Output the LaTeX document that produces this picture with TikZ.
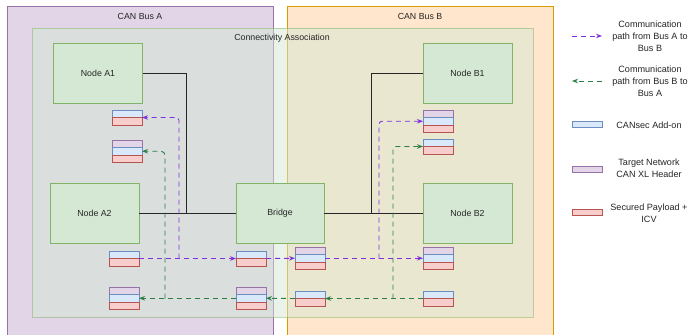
\documentclass[tikz,border=0pt]{standalone}
\usepackage{fontspec}
\setmainfont{Liberation Sans}
\usetikzlibrary{arrows.meta}
\definecolor{busAfill}{HTML}{E1D5E7}
\definecolor{busAline}{HTML}{9673A6}
\definecolor{busBfill}{HTML}{FFE6CC}
\definecolor{busBline}{HTML}{D79B00}
\definecolor{gfill}{HTML}{D5E8D4}
\definecolor{gline}{HTML}{82B366}
\definecolor{bfill}{HTML}{DAE8FC}
\definecolor{bline}{HTML}{6C8EBF}
\definecolor{rfill}{HTML}{F8CECC}
\definecolor{rline}{HTML}{B85450}
\definecolor{purp}{HTML}{7F2FE0}
\definecolor{grn}{HTML}{2D7D46}
\definecolor{txt}{HTML}{262626}
\begin{document}
\begin{tikzpicture}[x=1pt,y=-1pt,
  every node/.style={font=\fontsize{8.8}{11.5}\selectfont, text=txt},
  nodebox/.style={draw=gline, fill=gfill, line width=0.8pt, minimum width=89pt, minimum height=60pt, inner sep=0pt},
  row/.style={minimum width=30pt, minimum height=7.5pt, inner sep=0pt, outer sep=0pt, anchor=north west, line width=0.7pt},
  rb/.style={row, draw=bline, fill=bfill},
  rr/.style={row, draw=rline, fill=rfill},
  rp/.style={row, draw=busAline, fill=busAfill},
  legrow/.style={minimum height=6pt, anchor=center},
  busline/.style={draw=black!85, line width=0.7pt},
  pathA/.style={draw=purp, line width=0.9pt, dash pattern=on 5pt off 4pt, -{Stealth[length=6pt,width=4.5pt]}},
  pathB/.style={draw=grn, line width=0.9pt, dash pattern=on 5pt off 4pt, -{Stealth[length=6pt,width=4.5pt]}},
  legtext/.style={align=center, font=\fontsize{9.1}{11.8}\selectfont}
]
\useasboundingbox (0,0) rectangle (689,335);
% containers
\fill[white] (0,0) rectangle (689,335);
\draw[draw=busAline, fill=busAfill, line width=0.8pt] (7,6) rectangle (273,345);
\draw[draw=busBline, fill=busBfill, line width=0.8pt] (287,6) rectangle (553,345);
\draw[draw=gline, fill=gfill, fill opacity=0.5, draw opacity=0.5, line width=0.8pt] (32,28) rectangle (533,317);
\node (labA) at (140,16) {CAN Bus A};
\node (labB) at (420,16) {CAN Bus B};
\node (labC) at (282,38) {Connectivity Association};
% nodes
\node[nodebox] (A1) at (98,73) {Node A1};
\node[nodebox] (A2) at (94.5,213) {Node A2};
\node[nodebox, minimum width=88pt] (Br) at (280,213) {Bridge};
\node[nodebox] (B1) at (467.5,73) {Node B1};
\node[nodebox] (B2) at (467.5,213) {Node B2};
% bus lines
\coordinate (jA1) at (186,213);
\coordinate (jB1) at (371,213);
\draw[busline] (A1.east) -| (jA1);
\draw[busline] (A2.east) -- (Br.west);
\draw[busline] (Br.east) -- (B2.west);
\draw[busline] (B1.west) -| (jB1);
% packets
\node[rb] (PA1b) at (112,110) {};
\node[rr] (PA1r) at (PA1b.south west) {};
\node[rp] (PA1gp) at (112,140) {};
\node[rb] (PA1gb) at (PA1gp.south west) {};
\node[rr] (PA1gr) at (PA1gb.south west) {};
\node[rb] (PA2b) at (109,251) {};
\node[rr] (PA2r) at (PA2b.south west) {};
\node[rp] (PA2gp) at (109,287) {};
\node[rb] (PA2gb) at (PA2gp.south west) {};
\node[rr] (PA2gr) at (PA2gb.south west) {};
\node[rb] (PLb) at (236,251) {};
\node[rr] (PLr) at (PLb.south west) {};
\node[rp] (PLgp) at (236,287) {};
\node[rb] (PLgb) at (PLgp.south west) {};
\node[rr] (PLgr) at (PLgb.south west) {};
\node[rp] (PRp) at (295,247) {};
\node[rb] (PRb) at (PRp.south west) {};
\node[rr] (PRr) at (PRb.south west) {};
\node[rb] (PRgb) at (295,291) {};
\node[rr] (PRgr) at (PRgb.south west) {};
\node[rp] (PB1p) at (423,110) {};
\node[rb] (PB1b) at (PB1p.south west) {};
\node[rr] (PB1r) at (PB1b.south west) {};
\node[rb] (PB1gb) at (423,139) {};
\node[rr] (PB1gr) at (PB1gb.south west) {};
\node[rp] (PB2p) at (423,247) {};
\node[rb] (PB2b) at (PB2p.south west) {};
\node[rr] (PB2r) at (PB2b.south west) {};
\node[rb] (PB2gb) at (423,291) {};
\node[rr] (PB2gr) at (PB2gb.south west) {};
% purple path A -> B
\coordinate (jA) at (179,258.5);
\coordinate (jB) at (379,258.5);
\draw[pathA] (PA2r.north east) -- (PLr.north west);
\draw[pathA, rounded corners=3pt] (jA) |- (PA1r.north east);
\draw[pathA] (PLr.north east) -- (PRb.west);
\draw[pathA] (PRb.east) -- (PB2b.west);
\draw[pathA, rounded corners=3pt] (jB) |- (PB1b.west);
% green path B -> A
\coordinate (jC) at (393,298.5);
\coordinate (jD) at (165,298.5);
\draw[pathB] (PB2gr.north west) -- (PRgr.north east);
\draw[pathB, rounded corners=3pt] (jC) |- (PB1gr.north west);
\draw[pathB] (PRgr.north west) -- (PLgb.east);
\draw[pathB] (PLgb.west) -- (PA2gb.east);
\draw[pathB, rounded corners=4pt] (jD) |- (PA1gb.east);
% legend
\coordinate (lg1a) at (572,36);
\coordinate (lg1b) at (602,36);
\coordinate (lg2a) at (572,81);
\coordinate (lg2b) at (602,81);
\draw[pathA] (lg1a) -- (lg1b);
\draw[pathB] (lg2b) -- (lg2a);
\node[legtext] (lt1) at (650,36) {Communication\\path from Bus A to\\Bus B};
\node[legtext] (lt2) at (650,81) {Communication\\path from Bus B to\\Bus A};
\node[rb, legrow] (lgb) at (587,124.5) {};
\node[rp, legrow] (lgp) at (587,169) {};
\node[rr, legrow] (lgr) at (587,212.5) {};
\node[legtext] (lt3) at (649,125) {CANsec Add-on};
\node[legtext] (lt4) at (649,168.5) {Target Network\\CAN XL Header};
\node[legtext] (lt5) at (649,213) {Secured Payload +\\ICV};
\end{tikzpicture}
\end{document}
